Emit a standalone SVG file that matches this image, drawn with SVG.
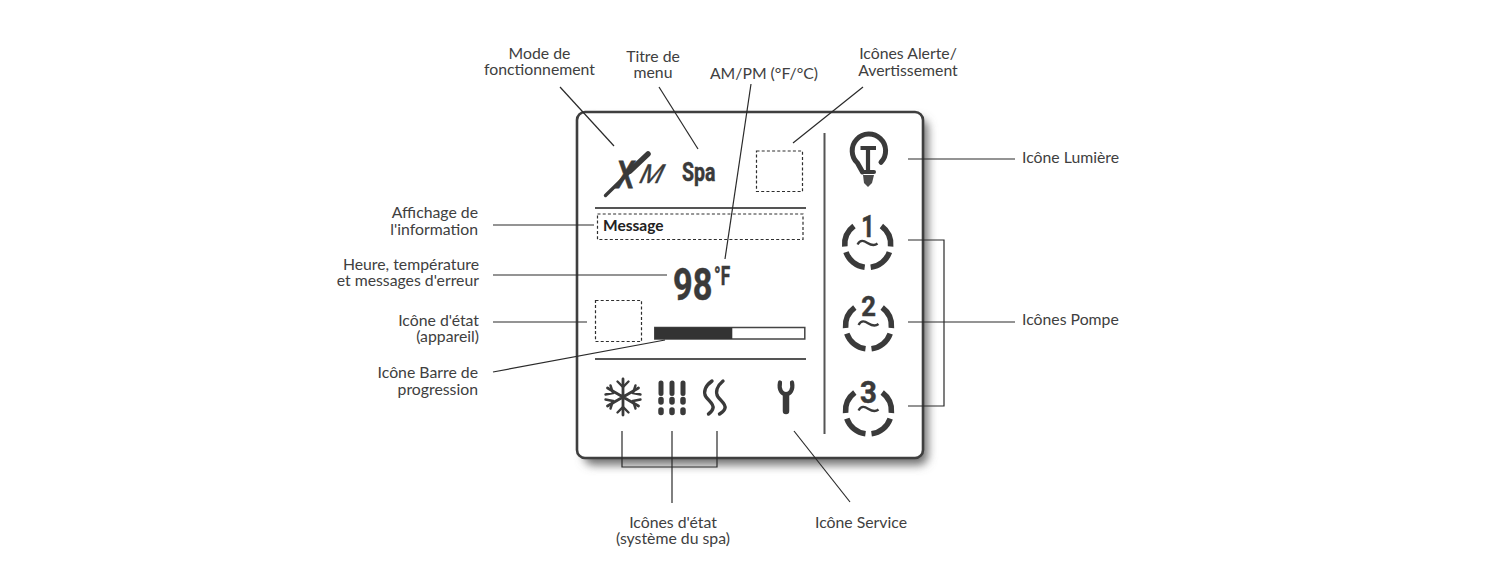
<svg xmlns="http://www.w3.org/2000/svg" width="1500" height="569" viewBox="0 0 1500 569">
<style>
.lbl{font-family:"Lato","Noto Sans",sans-serif;font-size:15.8px;fill:#404040}
.m{text-anchor:middle}.e{text-anchor:end}
.conn{fill:none;stroke:#2a2a2a;stroke-width:1.2}
.dash{fill:#fff;stroke:#2e2e2e;stroke-width:1.2;stroke-dasharray:3 2.2}
.rule{stroke:#555;stroke-width:2.2;fill:none}
.ico{fill:none;stroke:#3a3a3a;stroke-linecap:round}
.ring{fill:none;stroke:#3a3a3a;stroke-width:5.6;stroke-linecap:butt}
.cond{font-family:"Roboto","Liberation Sans",sans-serif;font-weight:700;fill:#3a3a3a;stroke:#3a3a3a;stroke-width:.5}
</style>
<defs>
<filter id="blur" x="-10%" y="-10%" width="120%" height="120%"><feGaussianBlur stdDeviation="5"/></filter>
<g id="ring">
<path class="ring" d="M-13.700-18.400A23 23 0 0 0-22.900 2"/>
<path class="ring" d="M-21.700 7.600A23 23 0 0 0-3 22.800"/>
<path class="ring" d="M3 22.800A23 23 0 0 0 21.700 7.600"/>
<path class="ring" d="M22.900 2A23 23 0 0 0 13.700-18.400"/>
</g>
<path id="wave" d="M-10 1c3-5 6-4 10-1.500s7 3 10 .5" fill="none" stroke="#3a3a3a" stroke-width="2.300"/>
</defs>
<rect width="1500" height="569" fill="#fff"/>

<g id="panel">
<rect x="584" y="119" width="344" height="346" rx="9" fill="#707070" filter="url(#blur)"/>
<rect x="577" y="112" width="346" height="346" rx="8" fill="#fff" stroke="#3f3f3f" stroke-width="2.600"/>
<path class="rule" d="M595 208H806M595 359H806"/>
<path d="M824.500 133V434" fill="none" stroke="#555" stroke-width="2"/>
</g>

<g id="icon-mode">
<text transform="translate(616 188) scale(.72 1)" font-family="Liberation Sans,sans-serif" font-weight="700" font-style="italic" font-size="38" fill="#3a3a3a" stroke="#3a3a3a" stroke-width=".8">X</text>
<path class="ico" stroke-width="3.400" d="M605.500 195.500L648 154"/>
<path class="ico" stroke-width="5.500" d="M630 171L648 154"/>
<text transform="translate(637 182.500) skewX(-25)" font-family="Liberation Sans,sans-serif" font-size="27" fill="#3a3a3a" stroke="#3a3a3a" stroke-width=".4">M</text>
</g>
<g id="title-spa"><text class="cond" transform="translate(682 180.500) scale(.78 1)" font-size="25">Spa</text></g>
<g id="alert-box"><rect class="dash" x="756.500" y="151" width="46" height="40.500"/></g>
<g id="message"><rect class="dash" x="597.500" y="214" width="205.500" height="25.500"/>
<text x="603" y="231" font-family="Lato,sans-serif" font-weight="700" font-size="15.500" fill="#222">Message</text></g>
<g id="temperature">
<text class="cond" transform="translate(673 300) scale(.78 1)" font-size="44">98</text>
<text class="cond" transform="translate(714 285) scale(.66 1)" font-size="26">°F</text>
</g>
<g id="state-box"><rect class="dash" x="595.500" y="300.500" width="46" height="41"/></g>
<g id="progress"><rect x="654.800" y="327.500" width="150" height="11.500" fill="#fff" stroke="#444" stroke-width="1.500"/><rect x="654.800" y="327.500" width="77.500" height="11.500" fill="#333"/></g>

<g id="icon-snow" class="ico" stroke-width="2.800">
<path d="M623 379V415M607.500 388L638.500 406M607.500 406L638.500 388"/>
<path stroke-width="2.400" d="M617.500 381.500L623 387L628.500 381.500M617.500 412.500L623 407L628.500 412.500M605.500 394.500L613 393L610.500 385.500M640.500 399.500L633 401L635.500 408.500M605.500 399.500L613 401L610.500 408.500M640.500 394.500L633 393L635.500 385.500"/>
</g>
<g id="icon-jets" class="ico">
<path stroke-width="5" d="M661 383V393.500M672 383V393.500M683 383V393.500"/>
<path stroke-width="5.500" d="M661 399.500V402M672 399.500V402M683 399.500V402M661 410V412.500M672 410V412.500M683 410V412.500"/>
</g>
<g id="icon-heat" class="ico" stroke-width="3.400">
<path d="M712 381C705 386 703 392 706 397C709 401 714 404 713 408C712.500 411 710 413 708.500 414"/>
<path d="M723 381C717 386 715 392 718 397C721 401 726 404 725 408C724.500 411 721 413 719.500 414"/>
</g>
<g id="icon-service">
<path fill="none" stroke="#3a3a3a" stroke-width="6.500" stroke-linecap="round" d="M786 396V411"/>
<path class="ico" stroke-width="4.200" d="M780 382.500C778.500 390 782 394 786 394C790 394 793.500 390 792 382.500"/>
</g>
<g id="icon-light">
<path class="ico" stroke-width="5" d="M881 162.300A16.700 16.700 0 1 0 857.500 163L862.500 172"/>
<path class="ico" stroke-width="4" d="M862.500 172H874"/>
<path d="M863 175H874L872 183L868 187L864 183Z" fill="#4a4a4a"/>
<path fill="none" stroke="#3a3a3a" stroke-width="4.200" d="M860.500 148H876M868 148V170"/>
</g>
<g id="icon-pump-1"><use href="#ring" x="867.700" y="244.500"/><text class="cond" transform="translate(868 237) scale(.75 1)" text-anchor="middle" font-size="31">1</text><use href="#wave" x="867.500" y="243.500"/></g>
<g id="icon-pump-2"><use href="#ring" x="868.500" y="326"/><text class="cond" transform="translate(868.500 316) scale(.95 1)" text-anchor="middle" font-size="27">2</text><use href="#wave" x="868.500" y="324"/></g>
<g id="icon-pump-3"><use href="#ring" x="868.500" y="411"/><text class="cond" transform="translate(868.500 403) scale(.95 1)" text-anchor="middle" font-size="31">3</text><use href="#wave" x="868.500" y="409.500"/></g>

<g id="connectors" class="conn">
<path d="M560 87L614 146"/>
<path d="M659 87L698 149"/>
<path d="M751 84L725 259"/>
<path d="M863 87L793 143"/>
<path d="M493 225H594"/>
<path d="M493 275H667"/>
<path d="M493 322H587"/>
<path d="M493 372L665 340"/>
<path d="M622 431V467H717V431"/>
<path d="M672 431V503"/>
<path d="M794 431L850 502"/>
<path d="M908 159H1015"/>
<path d="M908 240H944V406H908"/>
<path d="M908 322H1015"/>
</g>

<g id="labels">
<g id="label-mode"><text class="lbl m" x="539.500" y="58.500">Mode de</text><text class="lbl m" x="539.500" y="75">fonctionnement</text></g>
<g id="label-titre"><text class="lbl m" x="653" y="61.500">Titre de</text><text class="lbl m" x="653" y="78">menu</text></g>
<g id="label-ampm"><text class="lbl m" x="764" y="79">AM/PM (°F/°C)</text></g>
<g id="label-alerte"><text class="lbl m" x="908" y="59">Icônes Alerte/</text><text class="lbl m" x="908" y="76">Avertissement</text></g>
<g id="label-affichage"><text class="lbl e" x="478" y="218">Affichage de</text><text class="lbl e" x="478" y="235">l'information</text></g>
<g id="label-heure"><text class="lbl e" x="479" y="269.500">Heure, température</text><text class="lbl e" x="479" y="286">et messages d'erreur</text></g>
<g id="label-etat"><text class="lbl e" x="479" y="326">Icône d'état</text><text class="lbl e" x="479" y="342">(appareil)</text></g>
<g id="label-barre"><text class="lbl e" x="478" y="378">Icône Barre de</text><text class="lbl e" x="478" y="395">progression</text></g>
<g id="label-lumiere"><text class="lbl" x="1022" y="163">Icône Lumière</text></g>
<g id="label-pompe"><text class="lbl" x="1022" y="325">Icônes Pompe</text></g>
<g id="label-etat-spa"><text class="lbl m" x="673" y="528">Icônes d'état</text><text class="lbl m" x="673" y="544">(système du spa)</text></g>
<g id="label-service"><text class="lbl m" x="861" y="528">Icône Service</text></g>
</g>
</svg>
